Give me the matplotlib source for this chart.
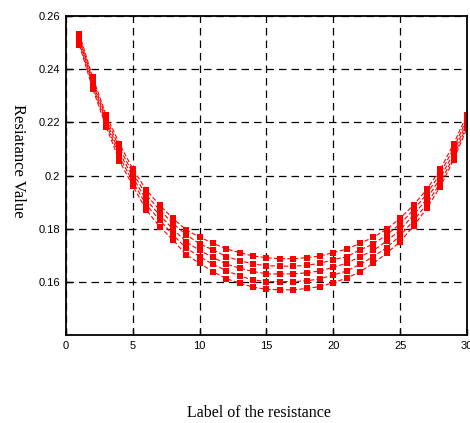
import matplotlib
matplotlib.use('Agg')
import matplotlib.pyplot as plt
import numpy as np

# 저항 번호
labels = list(range(1, 31))

# 5개 측정 곡선 (위에서 아래 순서)
r1 = [0.2532, 0.2369, 0.2228, 0.2119, 0.2025, 0.1946, 0.1889, 0.1839, 0.1795, 0.1768,
      0.1745, 0.1724, 0.1710, 0.1697, 0.1691, 0.1687, 0.1687, 0.1691, 0.1697, 0.1710,
      0.1723, 0.1745, 0.1768, 0.1798, 0.1839, 0.1889, 0.1948, 0.2023, 0.2119, 0.2228]
r2 = [0.2522, 0.2358, 0.2217, 0.2103, 0.2009, 0.1927, 0.1871, 0.1820, 0.1777, 0.1743,
      0.1720, 0.1695, 0.1680, 0.1667, 0.1661, 0.1659, 0.1659, 0.1662, 0.1670, 0.1683,
      0.1695, 0.1720, 0.1743, 0.1777, 0.1818, 0.1871, 0.1931, 0.2008, 0.2102, 0.2215]
r3 = [0.2512, 0.2348, 0.2206, 0.2087, 0.1993, 0.1908, 0.1852, 0.1798, 0.1751, 0.1718,
      0.1692, 0.1667, 0.1651, 0.1639, 0.1630, 0.1630, 0.1630, 0.1634, 0.1641, 0.1655,
      0.1670, 0.1695, 0.1718, 0.1754, 0.1795, 0.1852, 0.1912, 0.1990, 0.2086, 0.2203]
r4 = [0.2501, 0.2337, 0.2195, 0.2071, 0.1977, 0.1890, 0.1833, 0.1777, 0.1727, 0.1695,
      0.1666, 0.1642, 0.1622, 0.1607, 0.1601, 0.1601, 0.1601, 0.1604, 0.1611, 0.1626,
      0.1641, 0.1666, 0.1695, 0.1729, 0.1774, 0.1830, 0.1893, 0.1973, 0.2071, 0.2190]
r5 = [0.2491, 0.2326, 0.2184, 0.2055, 0.1961, 0.1871, 0.1808, 0.1758, 0.1701, 0.1670,
      0.1638, 0.1612, 0.1595, 0.1580, 0.1572, 0.1570, 0.1570, 0.1575, 0.1582, 0.1597,
      0.1614, 0.1638, 0.1670, 0.1708, 0.1751, 0.1810, 0.1877, 0.1958, 0.2059, 0.2178]

x_ticks = [0, 5, 10, 15, 20, 25, 30]
y_ticks = [0.16, 0.18, 0.20, 0.22, 0.24, 0.26]
y_tick_labels = ['0.16', '0.18', '0.2', '0.22', '0.24', '0.26']

fig = plt.figure(figsize=(4.70, 4.23), dpi=100)
ax = fig.add_axes([0.1404, 0.208, 0.8532, 0.7542])

for r in [r1, r2, r3, r4, r5]:
    ax.plot(labels, r, color='red', linestyle=(0, (4, 2)), linewidth=0.8,
            marker='s', markersize=3.8, markeredgewidth=0)

ax.set_xlim(0, 30)
ax.set_ylim(0.14, 0.26)
ax.set_xticks(x_ticks)
ax.set_xticklabels([str(v) for v in x_ticks])
ax.set_yticks(y_ticks)
ax.set_yticklabels(y_tick_labels)

# 눈금과 격자
ax.tick_params(direction='in', length=4, width=1, labelsize=8, pad=4)
for lab in ax.get_xticklabels() + ax.get_yticklabels():
    lab.set_family('Liberation Sans')
ax.grid(True, color='black', linestyle=(0, (6, 4)), linewidth=0.9)
for s in ax.spines.values():
    s.set_linewidth(1.3)

fig.text(0.038, 0.619, 'Resiatance Value', rotation=-90, ha='center', va='center',
         family='Liberation Serif', fontsize=12)
fig.text(0.55, 0.024, 'Label of the resistance', ha='center', va='center',
         family='Liberation Serif', fontsize=11.5)

fig.savefig('out.png', dpi=100)
